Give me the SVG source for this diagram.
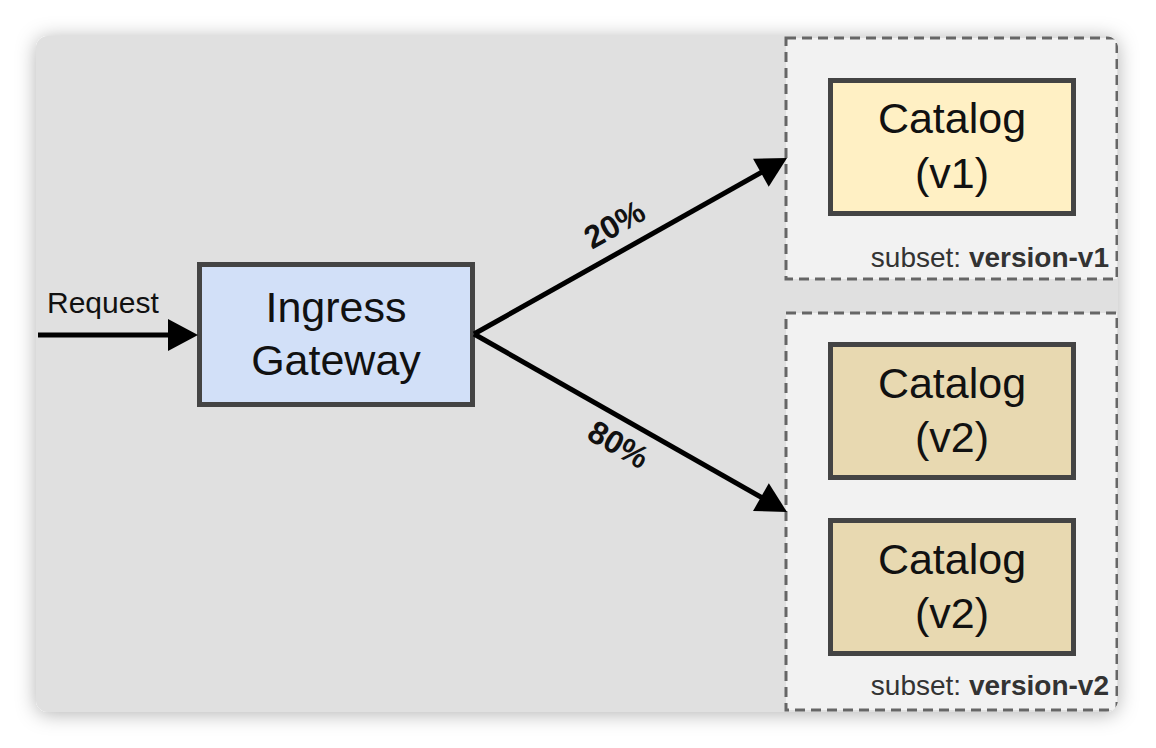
<svg xmlns="http://www.w3.org/2000/svg" width="1156" height="748" viewBox="0 0 1156 748">
  <defs>
    <filter id="shadow" x="-10%" y="-10%" width="120%" height="120%">
      <feDropShadow dx="0" dy="2" stdDeviation="10" flood-color="#000" flood-opacity="0.3"/>
    </filter>
    <clipPath id="cardClip">
      <rect x="36" y="36" width="1082" height="676" rx="12" ry="12"/>
    </clipPath>
    <marker id="arrow" markerUnits="userSpaceOnUse" markerWidth="32" markerHeight="34" refX="10" refY="16" orient="auto" overflow="visible">
      <path d="M0,0 L30,16 L0,32 Z" fill="#000"/>
    </marker>
    <style>
      .node { stroke: #444; stroke-width: 5; }
      .big { font-family: "Liberation Sans", Arial, sans-serif; font-size: 43px; fill: #111; text-anchor: middle; }
      .sub { font-family: "Liberation Sans", Arial, sans-serif; font-size: 28px; fill: #333; text-anchor: end; }
      .lbl { font-family: "Liberation Sans", Arial, sans-serif; font-size: 32px; font-weight: bold; fill: #111; text-anchor: middle; }
      .req { font-family: "Liberation Sans", Arial, sans-serif; font-size: 30px; fill: #111; }
      .edge { stroke: #000; stroke-width: 5; fill: none; marker-end: url(#arrow); }
      .group { fill: #f2f2f2; stroke: #666; stroke-width: 3; stroke-dasharray: 10 6; }
    </style>
  </defs>
  <rect x="0" y="0" width="1156" height="748" fill="#ffffff"/>
  <g id="card">
    <rect x="36" y="36" width="1082" height="676" rx="12" ry="12" fill="#e0e0e0" filter="url(#shadow)"/>
  </g>
  <g id="subset-v1" clip-path="url(#cardClip)">
    <rect class="group" x="786" y="38" width="331" height="241"/>
    <text class="sub" x="1109" y="267">subset: <tspan font-weight="bold">version-v1</tspan></text>
  </g>
  <g id="subset-v2" clip-path="url(#cardClip)">
    <rect class="group" x="786" y="313" width="331" height="397"/>
    <text class="sub" x="1109" y="695">subset: <tspan font-weight="bold">version-v2</tspan></text>
  </g>
  <g id="ingress-gateway">
    <rect class="node" x="199.5" y="264.5" width="273" height="140" fill="#d2e0f8"/>
    <text class="big" x="336" y="322">Ingress</text>
    <text class="big" x="336" y="375">Gateway</text>
  </g>
  <g id="catalog-v1">
    <rect class="node" x="830.5" y="80.5" width="243" height="133" fill="#fff0c4"/>
    <text class="big" x="952" y="133">Catalog</text>
    <text class="big" x="952" y="188">(v1)</text>
  </g>
  <g id="catalog-v2-a">
    <rect class="node" x="830.5" y="344.5" width="243" height="133" fill="#e8d9b1"/>
    <text class="big" x="952" y="398">Catalog</text>
    <text class="big" x="952" y="452">(v2)</text>
  </g>
  <g id="catalog-v2-b">
    <rect class="node" x="830.5" y="520.5" width="243" height="133" fill="#e8d9b1"/>
    <text class="big" x="952" y="574">Catalog</text>
    <text class="big" x="952" y="628">(v2)</text>
  </g>
  <g id="connectors">
    <line class="edge" x1="38" y1="335" x2="178" y2="335"/>
    <line class="edge" x1="474" y1="334" x2="769.6" y2="167.8"/>
    <line class="edge" x1="474" y1="334" x2="769.6" y2="502.1"/>
    <text class="req" x="47" y="313">Request</text>
    <text class="lbl" transform="translate(620,234) rotate(-29.4)">20%</text>
    <text class="lbl" transform="translate(613,454) rotate(29.7)">80%</text>
  </g>
</svg>
